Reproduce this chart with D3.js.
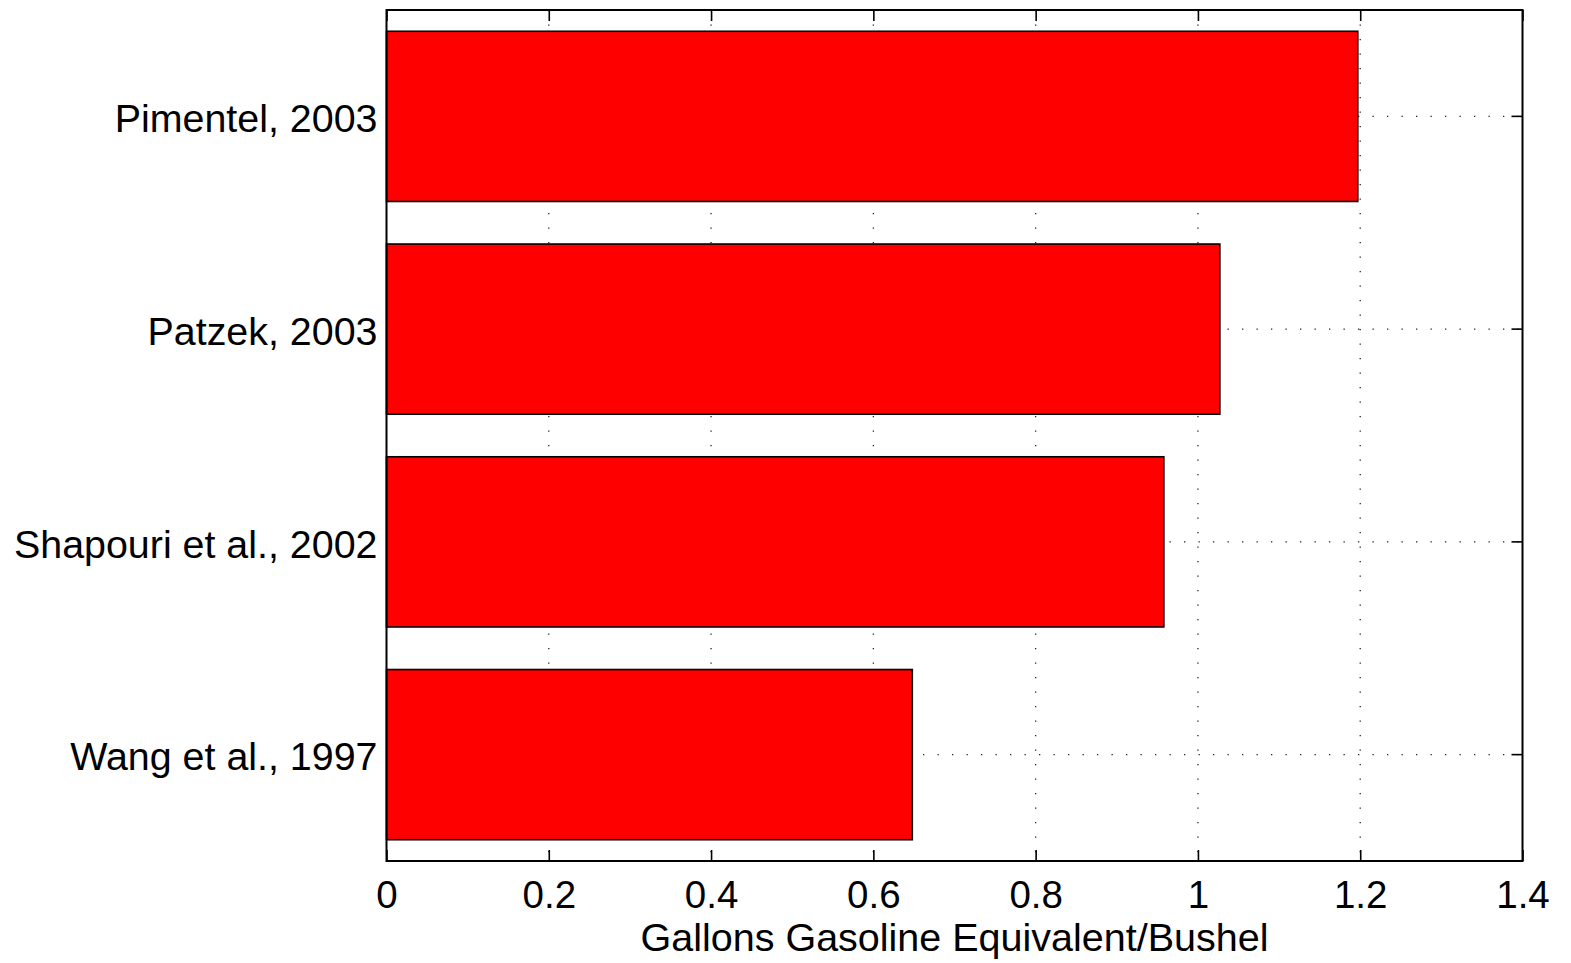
<!DOCTYPE html>
<html>
<head>
<meta charset="utf-8">
<script src="https://cdn.jsdelivr.net/npm/d3@7"></script>
<style>
  html, body { margin: 0; padding: 0; background: #fff; }
  svg { display: block; }
  text { font-family: "Liberation Sans", Arial, Helvetica, sans-serif; fill: #000; }
</style>
</head>
<body>
<svg id="chart" width="1571" height="963"></svg>
<script>
// ---- data ----
const categories = ["Pimentel, 2003", "Patzek, 2003", "Shapouri et al., 2002", "Wang et al., 1997"];
const values = [1.197, 1.027, 0.958, 0.648];
const xTickValues = [0, 0.2, 0.4, 0.6, 0.8, 1, 1.2, 1.4];
const xTickLabels = ["0", "0.2", "0.4", "0.6", "0.8", "1", "1.2", "1.4"];
const xAxisTitle = "Gallons Gasoline Equivalent/Bushel";

// ---- layout ----
const pLeft = 386.5, pRight = 1522.5, pTop = 10, pBottom = 861;
const svg = d3.select("#chart");

const x = d3.scaleLinear().domain([0, 1.4]).range([pLeft, pRight]);
const y = d3.scaleBand().domain(categories).range([pTop, pBottom])
  .paddingInner(0.2).paddingOuter(0.1);

const rows = categories.map((c, i) => ({ c, v: values[i] }));

// grid (behind bars)
const grid = svg.append("g").attr("stroke", "#222").attr("stroke-width", 1.3)
  .attr("stroke-dasharray", "1.3,13.2").attr("fill", "none");
grid.selectAll("line.vg").data(xTickValues.filter(v => v > 0 && v < 1.4)).enter()
  .append("line").attr("class", "vg")
  .attr("x1", d => x(d)).attr("x2", d => x(d))
  .attr("y1", pTop).attr("y2", pBottom);
grid.selectAll("line.hg").data(categories).enter()
  .append("line").attr("class", "hg")
  .attr("x1", pLeft).attr("x2", pRight)
  .attr("y1", d => y(d) + y.bandwidth() / 2).attr("y2", d => y(d) + y.bandwidth() / 2);

// bars
svg.append("g").selectAll("rect").data(rows).enter().append("rect")
  .attr("x", x(0))
  .attr("y", d => y(d.c))
  .attr("width", d => x(d.v) - x(0))
  .attr("height", y.bandwidth())
  .attr("fill", "#ff0000")
  .attr("stroke", "#000")
  .attr("stroke-width", 1.6);

// axes box
svg.append("rect").attr("x", pLeft).attr("y", pTop)
  .attr("width", pRight - pLeft).attr("height", pBottom - pTop)
  .attr("fill", "none").attr("stroke", "#000").attr("stroke-width", 2);

// bottom axis with inward ticks
const xAxis = d3.axisBottom(x).tickValues(xTickValues)
  .tickFormat((d, i) => xTickLabels[i]).tickSizeInner(-11).tickSizeOuter(0).tickPadding(0);
const gx = svg.append("g").attr("transform", `translate(0,${pBottom})`).call(xAxis);
gx.select(".domain").remove();
gx.selectAll(".tick line").attr("stroke", "#000").attr("stroke-width", 1.6);
gx.selectAll(".tick text").attr("font-size", 38.5).attr("dy", null).attr("y", 47)
  .style("font-family", '"Liberation Sans", Arial, sans-serif');

// top ticks
const xTopAxis = d3.axisTop(x).tickValues(xTickValues).tickFormat("")
  .tickSizeInner(-11).tickSizeOuter(0);
const gt = svg.append("g").attr("transform", `translate(0,${pTop})`).call(xTopAxis);
gt.select(".domain").remove();
gt.selectAll(".tick line").attr("stroke", "#000").attr("stroke-width", 1.6);

// right ticks
const yRight = d3.axisRight(y).tickFormat("").tickSizeInner(-11).tickSizeOuter(0);
const gr = svg.append("g").attr("transform", `translate(${pRight},0)`).call(yRight);
gr.select(".domain").remove();
gr.selectAll(".tick line").attr("stroke", "#000").attr("stroke-width", 1.6);

// left category labels
const yLeft = d3.axisLeft(y).tickSize(0).tickPadding(9);
const gl = svg.append("g").attr("transform", `translate(${pLeft},0)`).call(yLeft);
gl.select(".domain").remove();
gl.selectAll(".tick text").attr("font-size", 39.4).attr("dy", "0.4em")
  .style("font-family", '"Liberation Sans", Arial, sans-serif');

// axis title
svg.append("text")
  .attr("x", (pLeft + pRight) / 2).attr("y", 951)
  .attr("text-anchor", "middle").attr("font-size", 39.5)
  .text(xAxisTitle);
</script>
</body>
</html>
